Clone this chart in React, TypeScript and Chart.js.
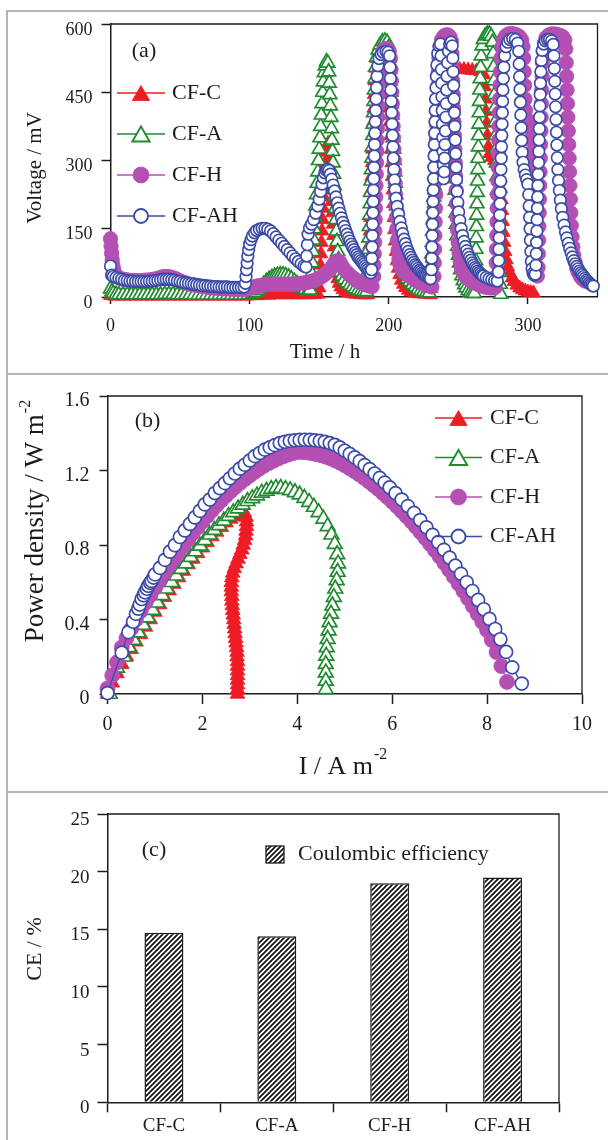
import React, { useEffect, useRef } from "react";
import { Chart, registerables } from "chart.js";

Chart.register(...registerables);

const FONT = "'Liberation Serif', 'Times New Roman', Times, serif";
const INK = "#1c1c1c";

const seriesLabels = ["CF-C", "CF-A", "CF-H", "CF-AH"];
const seriesColors = ["#ee1c25", "#228a30", "#b44fb4", "#3b4ba6"];

// ---------- (a) voltage vs time ----------
const timeTicks = [0, 100, 200, 300];
const voltageTicks = [0, 150, 300, 450, 600];

const voltageCFC = [
  [0, 3], [3, 2], [6, 2], [10, 2], [14, 2], [18, 2], [22, 2], [26, 2], [30, 2], [34, 2], [38, 2], [42, 2], [46, 2], [50, 2],
  [54, 2], [58, 2], [62, 2], [66, 2], [70, 2], [74, 2], [78, 2], [82, 2], [86, 2], [90, 2], [94, 2], [98, 2], [102, 3], [106, 3],
  [110, 4], [114, 4], [118, 5], [122, 5], [126, 5], [130, 5], [134, 5], [138, 5], [142, 5], [146, 5], [149, 6],
  [150, 20], [150.4, 45], [150.8, 70], [151.2, 95], [151.6, 120], [152, 145], [152.4, 170], [152.8, 195], [153.2, 220],
  [153.6, 245], [154, 270], [154.4, 295], [154.9, 318], [155.6, 333], [156.4, 338], [157.1, 332], [157.5, 310], [157.9, 285],
  [158.3, 260], [158.7, 235], [159.1, 210], [159.5, 185], [159.9, 160], [160.3, 135], [160.7, 110], [161.2, 88], [161.8, 68],
  [162.5, 52], [163.3, 40], [164.3, 30], [165.5, 22], [167, 16], [169, 12], [171, 9], [174, 7], [177, 6], [180, 5], [183, 5], [185, 5],
  [185.3, 25], [185.6, 55], [185.9, 85], [186.2, 115], [186.5, 145], [186.8, 175], [187.1, 205], [187.4, 235], [187.7, 265],
  [188, 295], [188.3, 325], [188.6, 355], [188.9, 385], [189.2, 415], [189.5, 445], [189.9, 475], [190.5, 503], [191.4, 524],
  [192.8, 538], [194.5, 546], [196.3, 548], [197.8, 544], [198.8, 532], [199.3, 505], [199.7, 475], [200.1, 445], [200.5, 415],
  [200.9, 385], [201.3, 355], [201.7, 325], [202.1, 295], [202.5, 265], [202.9, 235], [203.3, 205], [203.7, 175], [204.1, 148],
  [204.6, 123], [205.2, 100], [205.9, 80], [206.7, 63], [207.7, 49], [209, 37], [210.5, 28], [212, 21], [214, 15], [216, 11],
  [219, 8], [222, 7], [226, 6], [230, 5],
  [230.5, 25], [230.8, 55], [231.1, 85], [231.4, 115], [231.7, 145], [232, 175], [232.3, 205], [232.6, 235], [232.9, 265],
  [233.2, 295], [233.5, 325], [233.8, 355], [234.1, 385], [234.4, 415], [234.7, 443], [235.1, 468], [235.7, 486], [236.8, 494],
  [239, 498], [242, 500], [245, 501], [248, 501], [251, 500], [254, 500], [257, 499], [260, 498], [263, 497], [266, 495],
  [268.3, 488], [268.9, 462], [269.4, 435], [269.9, 408], [270.4, 382], [270.9, 355], [271.5, 330], [272.5, 315], [274, 307],
  [276, 300], [278, 294], [279.6, 285], [280.2, 262], [280.6, 238], [281, 214], [281.4, 190], [281.8, 166], [282.3, 142],
  [282.9, 120], [283.6, 100], [284.5, 82], [285.6, 66], [287, 53], [288.5, 42], [290, 34], [292, 26], [294, 20], [296, 16],
  [298, 13], [300, 11], [302, 10], [304, 9],
];

const voltageCFA = [
  [0, 18], [1, 12], [2, 8], [4, 6], [6, 5], [9, 5], [12, 5], [15, 5], [18, 5], [21, 5], [24, 5], [27, 5], [30, 5], [33, 5],
  [36, 5], [39, 6], [42, 6], [45, 6], [48, 5], [51, 5], [54, 5], [57, 5], [60, 4], [63, 4], [66, 4], [69, 4], [72, 4], [75, 4],
  [78, 4], [81, 4], [84, 4], [87, 4], [90, 4], [93, 4], [96, 4], [99, 5], [102, 7], [104, 10], [106, 15], [108, 21], [110, 28],
  [112, 34], [114, 39], [116, 43], [118, 46], [120, 48], [122, 49], [124, 49], [126, 47], [128, 44], [130, 40], [132, 35],
  [134, 30], [136, 25], [138, 20], [140, 16], [142, 13], [143.5, 15],
  [144, 30], [144.5, 52], [145, 75], [145.5, 100], [146, 125], [146.5, 150], [147, 175], [147.5, 200], [148, 225], [148.5, 250],
  [149, 275], [149.5, 300], [150, 325], [150.5, 350], [151, 375], [151.5, 400], [152, 425], [152.5, 450], [153, 473], [153.6, 493],
  [154.3, 508], [155.2, 517], [156.2, 514], [156.8, 495], [157.2, 470], [157.6, 445], [158, 420], [158.4, 395], [158.8, 370],
  [159.2, 345], [159.6, 320], [160, 295], [160.4, 270], [160.8, 245], [161.2, 220], [161.6, 195], [162, 170], [162.4, 145],
  [162.8, 122], [163.3, 100], [163.9, 82], [164.6, 67], [165.5, 55], [166.5, 46], [168, 38], [170, 31], [172, 26], [174, 22],
  [176, 18], [178, 15], [180, 13], [182, 12], [184, 12],
  [184.5, 30], [184.8, 55], [185.1, 80], [185.4, 105], [185.7, 130], [186, 155], [186.3, 180], [186.6, 205], [186.9, 230],
  [187.2, 255], [187.5, 280], [187.8, 305], [188.1, 330], [188.4, 355], [188.7, 380], [189, 405], [189.3, 430], [189.6, 455],
  [190, 480], [190.5, 505], [191.2, 527], [192.3, 543], [193.8, 554], [195.5, 561], [197.3, 563], [198.8, 560], [199.8, 548],
  [200.3, 525], [200.7, 500], [201.1, 475], [201.5, 450], [201.9, 425], [202.3, 400], [202.7, 375], [203.1, 350], [203.5, 325],
  [203.9, 300], [204.3, 275], [204.7, 250], [205.1, 225], [205.5, 200], [205.9, 175], [206.4, 150], [206.9, 128], [207.5, 108],
  [208.2, 92], [209, 78], [210, 66], [211, 56], [212, 48], [213.5, 40], [215, 34], [217, 27], [219, 22], [221, 17], [223, 14],
  [225, 12], [227, 10], [229, 9],
  [230, 20], [230.3, 45], [230.6, 70], [230.9, 95], [231.2, 120], [231.5, 145], [231.8, 170], [232.1, 195], [232.4, 220],
  [232.7, 245], [233, 270], [233.3, 295], [233.6, 320], [233.9, 345], [234.2, 370], [234.5, 395], [234.8, 420], [235.1, 445],
  [235.4, 470], [235.8, 495], [236.3, 520], [237, 540], [238, 553], [239.5, 561], [241, 565], [242.5, 565], [243.6, 558],
  [244.1, 535], [244.4, 510], [244.7, 485], [245, 460], [245.3, 435], [245.6, 410], [245.9, 385], [246.2, 360], [246.5, 335],
  [246.8, 310], [247.1, 285], [247.4, 260], [247.7, 235], [248, 210], [248.3, 185], [248.6, 160], [249, 135], [249.5, 112],
  [250.1, 92], [250.8, 75], [251.6, 60], [252.5, 47], [253.5, 36], [254.5, 27], [255.5, 20], [257, 14], [258.5, 10], [260, 8],
  [261.5, 8],
  [262, 30], [262.2, 55], [262.4, 80], [262.6, 105], [262.8, 130], [263, 155], [263.2, 180], [263.4, 205], [263.6, 230],
  [263.8, 255], [264, 280], [264.2, 305], [264.4, 330], [264.6, 355], [264.8, 380], [265, 405], [265.2, 430], [265.4, 455],
  [265.7, 480], [266, 505], [266.4, 530], [267, 552], [268, 566], [269.3, 574], [270.8, 578], [272.3, 578], [273.6, 573],
  [274.5, 560], [275, 535], [275.3, 505], [275.6, 475], [275.9, 445], [276.2, 415], [276.5, 385], [276.8, 355], [277.1, 325],
  [277.4, 295], [277.7, 265], [278, 235], [278.3, 205], [278.6, 175], [278.9, 145], [279.2, 115], [279.5, 85], [279.8, 55],
  [280.1, 28], [280.5, 6],
];

const voltageCFH = [
  [0, 128], [0.4, 112], [0.8, 96], [1.2, 82], [1.7, 70], [2.3, 60], [3, 52], [4, 47], [5, 44], [7, 41], [9, 39], [11, 38],
  [13, 37], [15, 36], [17, 36], [19, 36], [21, 36], [23, 36], [25, 37], [27, 37], [29, 38], [31, 39], [33, 40], [35, 42],
  [37, 44], [39, 45], [41, 45], [43, 44], [45, 42], [47, 40], [49, 37], [51, 34], [53, 32], [55, 30], [57, 28], [59, 27],
  [61, 26], [63, 25], [65, 24], [67, 23], [69, 22], [71, 21], [73, 20], [75, 20], [77, 19], [79, 19], [81, 18], [83, 18],
  [85, 18], [87, 17], [89, 17], [91, 17], [93, 17], [95, 17], [97, 17], [99, 18],
  [101, 20], [103, 22], [105, 24], [107, 25], [109, 26], [111, 27], [113, 28], [115, 28], [117, 28], [119, 28], [121, 28],
  [123, 28], [125, 28], [127, 28], [129, 28], [131, 28], [133, 29], [135, 29], [137, 30], [139, 31], [141, 32], [143, 33],
  [145, 35], [147, 37], [149, 40], [151, 43], [153, 47], [155, 52], [157, 58], [159, 65], [160.5, 72], [162, 78], [163.5, 80],
  [165, 76], [166.5, 68], [168, 61], [170, 54], [172, 48], [174, 43], [176, 38], [178, 34], [180, 31], [182, 28], [184, 26],
  [186, 24], [188, 23],
  [189.2, 45], [189.4, 70], [189.6, 95], [189.8, 120], [190, 145], [190.2, 170], [190.4, 195], [190.6, 220], [190.8, 245],
  [191, 270], [191.2, 295], [191.4, 320], [191.6, 345], [191.8, 370], [192, 395], [192.3, 420], [192.6, 445], [192.9, 470],
  [193.3, 495], [193.9, 517], [194.8, 532], [196, 541], [197.5, 546], [199, 546], [200.3, 540], [201.2, 525], [201.6, 500],
  [201.9, 475], [202.2, 450], [202.5, 425], [202.8, 400], [203.1, 375], [203.4, 350], [203.7, 325], [204, 300], [204.3, 275],
  [204.6, 250], [204.9, 225], [205.2, 200], [205.5, 175], [205.8, 150], [206.2, 125], [206.7, 102], [207.3, 84], [208, 72],
  [209, 64], [210, 58], [211.5, 53], [213, 49], [215, 45], [217, 41], [219, 37], [221, 34], [223, 31], [225, 28], [227, 26],
  [229, 24], [231, 22],
  [232.5, 45], [232.7, 75], [232.9, 105], [233.1, 135], [233.3, 165], [233.5, 195], [233.7, 225], [233.9, 255], [234.1, 285],
  [234.3, 315], [234.5, 345], [234.7, 375], [234.9, 405], [235.1, 435], [235.4, 465], [235.7, 495], [236.1, 525], [236.8, 550],
  [238, 566], [239.5, 573], [241, 576], [242.5, 576], [244, 572], [245, 562], [245.4, 535], [245.7, 505], [246, 475],
  [246.3, 445], [246.6, 415], [246.9, 385], [247.2, 355], [247.5, 325], [247.8, 295], [248.1, 265], [248.4, 235], [248.7, 205],
  [249, 175], [249.4, 147], [249.9, 120], [250.5, 97], [251.3, 78], [252.2, 64], [253.5, 53], [255, 46], [257, 40], [259, 36],
  [261, 32], [263, 29], [265, 26], [267, 24], [269, 22], [271, 21], [273, 20], [275, 20], [276.5, 21],
  [277, 45], [277.2, 75], [277.4, 105], [277.6, 135], [277.8, 165], [278, 195], [278.2, 225], [278.4, 255], [278.6, 285],
  [278.8, 315], [279, 345], [279.2, 375], [279.4, 405], [279.6, 435], [279.9, 465], [280.2, 495], [280.6, 525], [281.3, 550],
  [282.5, 566], [284, 574], [286, 578], [288, 579], [290, 578], [292, 576], [294, 572], [295.5, 565], [296.5, 550], [297, 525],
  [297.3, 495], [297.6, 465], [297.9, 435], [298.2, 410], [298.7, 392], [299.5, 385], [300.5, 380], [301.3, 372], [301.7, 345],
  [302, 315], [302.3, 285], [302.6, 255], [302.9, 225], [303.2, 195], [303.5, 165], [303.8, 135], [304.2, 107], [304.7, 82],
  [305.3, 62], [306, 50], [306.8, 46],
  [307.3, 65], [307.5, 95], [307.7, 125], [307.9, 155], [308.1, 185], [308.3, 215], [308.5, 245], [308.7, 275], [308.9, 305],
  [309.1, 335], [309.3, 365], [309.5, 395], [309.7, 425], [309.9, 455], [310.2, 485], [310.5, 515], [311, 540], [311.8, 558],
  [313, 570], [315, 576], [317, 578], [319, 578], [321, 577], [323, 575], [325, 572], [326.5, 565], [327.2, 545], [327.5, 515],
  [327.8, 485], [328.1, 455], [328.4, 425], [328.7, 395], [329, 365], [329.3, 335], [329.6, 305], [329.9, 275], [330.2, 245],
  [330.5, 215], [330.8, 185], [331.2, 157], [331.7, 132], [332.3, 110], [333, 92], [334, 76], [335, 64], [336, 55],
  [337.5, 46], [339, 40], [341, 35],
];

const voltageCFAH = [
  [0, 68], [0.8, 48], [2, 45], [4, 43], [6, 41], [8, 39], [10, 37], [12, 36], [14, 35], [16, 35], [18, 34], [20, 34], [22, 34],
  [24, 34], [26, 34], [28, 35], [30, 35], [32, 36], [34, 37], [36, 38], [38, 39], [40, 39], [42, 39], [44, 38], [46, 37],
  [48, 35], [50, 34], [52, 32], [54, 31], [56, 30], [58, 29], [60, 28], [62, 27], [64, 26], [66, 25], [68, 25], [70, 24],
  [72, 24], [74, 23], [76, 23], [78, 22], [80, 22], [82, 22], [84, 22], [86, 21], [88, 21], [90, 21], [92, 21], [94, 21], [96, 22],
  [97, 30], [97.4, 45], [97.8, 60], [98.2, 75], [98.7, 90], [99.3, 104], [100, 116], [101, 126], [102, 134], [103.5, 141],
  [105, 146], [107, 149], [109, 151], [111, 151], [113, 149], [115, 145], [117, 139], [119, 132], [121, 125], [123, 118],
  [125, 111], [127, 104], [129, 97], [131, 90], [133, 84], [135, 78], [137, 73], [139, 68], [140.5, 66],
  [141, 90], [141.5, 115], [142, 138], [143, 152], [144.5, 160], [146, 170], [147.5, 184], [149, 200], [150, 215], [151, 232],
  [152, 248], [153, 262], [154, 273], [155, 279], [156, 281], [157, 278], [158, 270], [159, 259], [160, 246], [161, 233],
  [162, 220], [163, 207], [164, 195], [165, 184], [166, 174], [167, 164], [168, 155], [169, 146], [170, 138], [171, 130],
  [172, 123], [173, 116], [174, 110], [175, 104], [176, 98], [177, 93], [178, 88], [179, 84], [180, 80], [181, 76], [182, 72],
  [183, 68], [184, 64], [185, 60], [186, 56], [187, 53],
  [187.6, 60], [187.8, 85], [188, 110], [188.2, 135], [188.4, 160], [188.6, 185], [188.8, 210], [189, 235], [189.2, 260],
  [189.4, 285], [189.6, 310], [189.8, 335], [190, 360], [190.3, 385], [190.6, 410], [190.9, 435], [191.2, 460], [191.6, 485],
  [192.2, 508], [193, 524], [194.5, 533], [196, 538], [198, 540], [199.5, 538], [200.6, 530], [200.9, 505], [201.2, 480],
  [201.5, 455], [201.8, 430], [202.1, 405], [202.4, 380], [202.7, 355], [203, 330], [203.3, 305], [203.7, 280], [204.1, 257],
  [204.6, 236], [205.2, 217], [206, 199], [207, 182], [208, 166], [209, 152], [210, 139], [211, 127], [212, 117], [213, 108],
  [214, 100], [215, 93], [216, 87], [217, 81], [218, 76], [219, 71], [220, 67], [221, 63], [222, 59], [223, 56], [224, 53],
  [225, 50], [226, 48], [227, 46], [228, 44], [229, 42], [230, 40],
  [230.6, 60], [230.8, 85], [231, 110], [231.2, 135], [231.4, 160], [231.6, 185], [231.8, 210], [232, 235], [232.2, 260],
  [232.4, 285], [232.6, 310], [232.8, 335], [233, 360], [233.2, 385], [233.4, 410], [233.6, 435], [233.9, 460], [234.2, 485],
  [234.6, 510], [235.2, 535], [236.2, 552], [237.2, 556], [237.6, 530], [237.8, 500], [238, 470], [238.2, 440], [238.4, 410],
  [238.6, 380], [238.8, 350], [239, 320], [239.2, 290], [239.4, 260], [239.8, 275], [240.1, 305], [240.4, 335], [240.7, 365],
  [241, 395], [241.3, 425], [241.6, 455], [241.9, 485], [242.3, 515], [242.9, 540], [243.8, 556], [244.8, 560], [245.6, 552],
  [246, 525], [246.3, 495], [246.6, 465], [246.9, 435], [247.2, 405], [247.5, 375], [247.8, 345], [248.1, 315], [248.4, 285],
  [248.7, 258], [249.1, 232], [249.6, 208], [250.2, 187], [251, 168], [252, 150], [253, 135], [254, 122], [255, 111],
  [256, 102], [257, 94], [258, 87], [259, 81], [260, 75], [261, 70], [262, 65], [263, 61], [264, 57], [265, 54], [266, 51],
  [267, 48], [268, 46], [270, 43], [272, 40], [274, 38], [276, 36], [278, 35],
  [278.8, 55], [279, 80], [279.2, 105], [279.4, 130], [279.6, 155], [279.8, 180], [280, 205], [280.2, 230], [280.4, 255],
  [280.6, 280], [280.8, 305], [281, 330], [281.2, 355], [281.4, 380], [281.6, 405], [281.8, 430], [282, 455], [282.3, 480],
  [282.7, 505], [283.3, 530], [284.3, 550], [285.5, 560], [287, 566], [289, 568], [291, 566], [292.6, 558], [293.4, 540],
  [293.7, 512], [294, 484], [294.3, 456], [294.6, 428], [294.9, 400], [295.2, 372], [295.5, 344], [295.9, 318], [296.5, 296],
  [297.3, 280], [298.2, 268], [299.1, 258], [300, 248], [300.6, 225], [300.9, 200], [301.2, 175], [301.5, 150], [301.8, 125],
  [302.1, 100], [302.5, 78], [303, 62], [303.7, 52], [304.5, 48], [305.3, 50],
  [305.8, 70], [306, 95], [306.2, 120], [306.4, 145], [306.6, 170], [306.8, 195], [307, 220], [307.2, 245], [307.4, 270],
  [307.6, 295], [307.8, 320], [308, 345], [308.2, 370], [308.4, 395], [308.6, 420], [308.8, 445], [309, 470], [309.3, 495],
  [309.7, 520], [310.3, 542], [311.3, 556], [312.5, 563], [314, 566], [315.5, 566], [317, 563], [318.2, 555], [318.7, 530],
  [319, 502], [319.3, 474], [319.6, 446], [319.9, 418], [320.2, 390], [320.5, 362], [320.8, 334], [321.1, 306], [321.5, 280],
  [322, 256], [322.6, 234], [323.3, 213], [324, 194], [325, 175], [326, 158], [327, 143], [328, 130], [329, 118], [330, 107],
  [331, 97], [332, 88], [333, 80], [334, 73], [335, 67], [336, 62], [337, 57], [338, 53], [339, 49], [340, 45], [341, 41],
  [342, 37], [343, 34], [344, 31], [345, 28], [346, 26], [347, 24],
];

// ---------- (b) power density vs current density ----------
const currentTicks = [0, 2, 4, 6, 8, 10];
const powerTicks = [0, 0.4, 0.8, 1.2, 1.6];

const powerCFC = [
  [0, 0], [0.1, 0.06], [0.2, 0.11], [0.3, 0.16], [0.4, 0.2], [0.5, 0.24], [0.6, 0.28], [0.7, 0.32], [0.8, 0.36], [0.9, 0.4],
  [1.0, 0.44], [1.1, 0.48], [1.2, 0.52], [1.3, 0.555], [1.4, 0.59], [1.5, 0.625], [1.6, 0.66], [1.7, 0.695], [1.8, 0.725],
  [1.9, 0.755], [2.0, 0.785], [2.1, 0.815], [2.2, 0.845], [2.3, 0.87], [2.4, 0.895], [2.5, 0.92], [2.6, 0.94], [2.7, 0.955],
  [2.8, 0.97], [2.88, 0.975], [2.92, 0.95], [2.93, 0.925], [2.93, 0.9], [2.92, 0.875], [2.91, 0.85], [2.89, 0.825], [2.86, 0.8],
  [2.83, 0.775], [2.79, 0.75], [2.75, 0.725], [2.71, 0.7], [2.67, 0.675], [2.64, 0.65], [2.62, 0.625], [2.61, 0.6], [2.61, 0.575],
  [2.61, 0.55], [2.62, 0.525], [2.62, 0.5], [2.63, 0.475], [2.64, 0.45], [2.65, 0.425], [2.66, 0.4], [2.67, 0.375], [2.68, 0.35],
  [2.69, 0.325], [2.7, 0.3], [2.71, 0.275], [2.72, 0.25], [2.73, 0.225], [2.73, 0.2], [2.74, 0.175], [2.74, 0.15], [2.74, 0.125],
  [2.74, 0.1], [2.74, 0.075], [2.74, 0.05], [2.74, 0.025], [2.74, 0],
];

const powerCFA = [
  [0.05, 0], [0.2, 0.14], [0.35, 0.2], [0.45, 0.25], [0.55, 0.29], [0.65, 0.33], [0.75, 0.37], [0.85, 0.41], [0.95, 0.45],
  [1.05, 0.49], [1.15, 0.53], [1.25, 0.565], [1.35, 0.6], [1.45, 0.635], [1.55, 0.67], [1.65, 0.7], [1.75, 0.735], [1.85, 0.765],
  [1.95, 0.795], [2.05, 0.825], [2.15, 0.855], [2.25, 0.88], [2.35, 0.905], [2.45, 0.93], [2.55, 0.955], [2.65, 0.975],
  [2.75, 0.995], [2.85, 1.015], [2.95, 1.035], [3.05, 1.05], [3.15, 1.065], [3.25, 1.08], [3.35, 1.09], [3.45, 1.1], [3.55, 1.105],
  [3.65, 1.105], [3.75, 1.1], [3.85, 1.093], [3.95, 1.083], [4.05, 1.07], [4.15, 1.052], [4.25, 1.03], [4.35, 1.004], [4.45, 0.975],
  [4.55, 0.94], [4.64, 0.9], [4.72, 0.855], [4.79, 0.805], [4.84, 0.75], [4.86, 0.7], [4.85, 0.655], [4.83, 0.61], [4.8, 0.565],
  [4.77, 0.52], [4.74, 0.475], [4.71, 0.43], [4.68, 0.385], [4.66, 0.34], [4.64, 0.295], [4.62, 0.25], [4.61, 0.205], [4.6, 0.16],
  [4.6, 0.115], [4.6, 0.07], [4.6, 0.025],
];

const powerCFH = [
  [0, 0.03], [0.1, 0.1], [0.2, 0.17], [0.3, 0.25], [0.4, 0.3], [0.5, 0.35], [0.6, 0.4], [0.7, 0.445], [0.8, 0.49], [0.9, 0.53],
  [1.0, 0.57], [1.1, 0.61], [1.2, 0.65], [1.3, 0.69], [1.4, 0.725], [1.5, 0.76], [1.6, 0.795], [1.7, 0.83], [1.8, 0.865],
  [1.9, 0.895], [2.0, 0.925], [2.1, 0.955], [2.2, 0.985], [2.3, 1.013], [2.4, 1.04], [2.5, 1.066], [2.6, 1.09], [2.7, 1.113],
  [2.8, 1.135], [2.9, 1.155], [3.0, 1.174], [3.1, 1.192], [3.2, 1.21], [3.3, 1.226], [3.4, 1.24], [3.5, 1.253], [3.6, 1.265],
  [3.7, 1.276], [3.8, 1.285], [3.9, 1.293], [4.0, 1.3], [4.1, 1.299], [4.2, 1.297], [4.3, 1.293], [4.4, 1.288], [4.5, 1.282],
  [4.6, 1.274], [4.7, 1.265], [4.8, 1.254], [4.9, 1.242], [5.0, 1.228], [5.1, 1.213], [5.2, 1.197], [5.3, 1.18], [5.4, 1.162],
  [5.5, 1.143], [5.6, 1.123], [5.7, 1.102], [5.8, 1.08], [5.9, 1.057], [6.0, 1.033], [6.1, 1.008], [6.2, 0.982], [6.3, 0.955],
  [6.4, 0.927], [6.5, 0.898], [6.6, 0.868], [6.7, 0.837], [6.8, 0.805], [6.9, 0.772], [7.0, 0.738], [7.1, 0.703], [7.2, 0.667],
  [7.3, 0.63], [7.4, 0.592], [7.5, 0.553], [7.6, 0.513], [7.7, 0.472], [7.8, 0.43], [7.9, 0.387], [8.0, 0.343], [8.1, 0.29],
  [8.2, 0.225], [8.3, 0.15], [8.42, 0.065],
];

const powerCFAH = [
  [0, 0.005], [0.3, 0.222], [0.44, 0.332], [0.54, 0.388], [0.6, 0.43], [0.65, 0.458], [0.68, 0.48], [0.72, 0.51], [0.76, 0.53],
  [0.79, 0.546], [0.83, 0.565], [0.86, 0.581], [0.9, 0.597], [0.93, 0.607], [0.97, 0.625], [1.0, 0.642], [1.105, 0.677],
  [1.21, 0.72], [1.316, 0.764], [1.42, 0.799], [1.526, 0.843], [1.63, 0.878], [1.737, 0.913], [1.842, 0.948], [1.947, 0.983],
  [2.05, 1.018], [2.158, 1.044], [2.263, 1.079], [2.368, 1.105], [2.474, 1.132], [2.579, 1.158], [2.684, 1.184], [2.789, 1.21],
  [2.895, 1.231], [3.0, 1.254], [3.105, 1.277], [3.21, 1.294], [3.316, 1.312], [3.42, 1.324], [3.526, 1.336], [3.63, 1.347],
  [3.737, 1.354], [3.842, 1.359], [3.947, 1.362], [4.05, 1.364], [4.158, 1.365], [4.263, 1.364], [4.368, 1.362], [4.474, 1.359],
  [4.579, 1.354], [4.684, 1.347], [4.79, 1.338], [4.895, 1.324], [5.0, 1.306], [5.105, 1.289], [5.21, 1.27], [5.316, 1.25],
  [5.42, 1.229], [5.526, 1.207], [5.63, 1.184], [5.737, 1.16], [5.842, 1.135], [5.947, 1.109], [6.07, 1.078], [6.2, 1.044],
  [6.33, 1.009], [6.46, 0.972], [6.59, 0.934], [6.72, 0.895], [6.85, 0.854], [6.97, 0.815], [7.09, 0.774], [7.21, 0.732],
  [7.33, 0.689], [7.45, 0.645], [7.57, 0.6], [7.69, 0.553], [7.81, 0.505], [7.93, 0.455], [8.05, 0.403], [8.17, 0.349],
  [8.28, 0.294], [8.4, 0.226], [8.53, 0.143], [8.73, 0.056],
];

// ---------- (c) coulombic efficiency ----------
const ceCategories = ["CF-C", "CF-A", "CF-H", "CF-AH"];
const ceValues = [14.7, 14.4, 19.0, 19.5];
const ceTicks = [0, 5, 10, 15, 20, 25];
const ceLegendLabel = "Coulombic efficiency";

// ---------- helpers ----------
function drawMarker(ctx: CanvasRenderingContext2D, style: string, x: number, y: number, r: number,
  fill: string, stroke: string, lw: number) {
  ctx.beginPath();
  if (style === "triangle") {
    ctx.moveTo(x, y - r);
    ctx.lineTo(x + r * 0.866, y + r * 0.5);
    ctx.lineTo(x - r * 0.866, y + r * 0.5);
    ctx.closePath();
  } else {
    ctx.arc(x, y, r, 0, Math.PI * 2);
  }
  ctx.fillStyle = fill;
  ctx.fill();
  if (lw > 0) {
    ctx.lineWidth = lw;
    ctx.strokeStyle = stroke;
    ctx.stroke();
  }
}

function seriesDataset(i: number, pts: number[][], sz: { tri: number; circ: number; open: number }) {
  const color = seriesColors[i];
  const tri = i < 2;
  const filled = i === 0 || i === 2;
  return {
    label: seriesLabels[i],
    data: pts.map((p) => ({ x: p[0], y: p[1] })),
    showLine: true,
    borderColor: color,
    borderWidth: 1.3,
    pointStyle: tri ? "triangle" : "circle",
    pointRadius: tri ? sz.tri : filled ? sz.circ : sz.open,
    pointHoverRadius: tri ? sz.tri : filled ? sz.circ : sz.open,
    pointBackgroundColor: filled ? color : "#ffffff",
    pointBorderColor: color,
    pointBorderWidth: filled ? 0.8 : 1.7,
    tension: 0,
    clip: false as any,
    order: 4 - i,
  };
}

function axisStyle(o: { tickLen: number; pad: number; size: number; labelOffset?: number }) {
  return {
    grid: { display: true, drawOnChartArea: false, drawTicks: true, tickLength: o.tickLen, tickWidth: 1.5, tickColor: INK },
    border: { display: true, color: INK, width: 1.5 },
    ticks: {
      color: INK,
      font: { family: FONT, size: o.size },
      padding: o.pad,
      labelOffset: o.labelOffset || 0,
      autoSkip: false,
      maxRotation: 0,
      minRotation: 0,
    },
  };
}

function framePlugin() {
  return {
    id: "plotFrame",
    beforeDatasetsDraw(chart: any) {
      const { ctx, chartArea: a } = chart;
      ctx.save();
      ctx.strokeStyle = INK;
      ctx.lineWidth = 1.3;
      ctx.beginPath();
      ctx.moveTo(a.left, a.top);
      ctx.lineTo(a.right, a.top);
      ctx.lineTo(a.right, a.bottom);
      ctx.stroke();
      ctx.restore();
    },
  };
}

type TextItem = { text: string; x: number; y: number; size: number; rotate?: boolean; sup?: string; supSize?: number; supRaise?: number };

function textsPlugin(items: TextItem[]) {
  return {
    id: "panelTexts",
    afterDraw(chart: any) {
      const ctx = chart.ctx as CanvasRenderingContext2D;
      items.forEach((t) => {
        ctx.save();
        ctx.translate(t.x, t.y);
        if (t.rotate) ctx.rotate(-Math.PI / 2);
        ctx.fillStyle = INK;
        ctx.textBaseline = "middle";
        ctx.textAlign = "left";
        ctx.font = `${t.size}px ${FONT}`;
        const mainW = ctx.measureText(t.text).width;
        let supW = 0;
        if (t.sup) {
          ctx.font = `${t.supSize}px ${FONT}`;
          supW = ctx.measureText(t.sup).width + 1;
        }
        const start = -(mainW + supW) / 2;
        ctx.font = `${t.size}px ${FONT}`;
        ctx.fillText(t.text, start, 0);
        if (t.sup) {
          ctx.font = `${t.supSize}px ${FONT}`;
          ctx.fillText(t.sup, start + mainW + 1, -(t.supRaise || 0));
        }
        ctx.restore();
      });
    },
  };
}

function seriesLegendPlugin(cfg: { x: number; y: number; gap: number; len: number; textGap: number; size: number; triR: number; circR: number; openR: number }) {
  return {
    id: "seriesLegend",
    afterDatasetsDraw(chart: any) {
      const ctx = chart.ctx as CanvasRenderingContext2D;
      chart.data.datasets.forEach((d: any, i: number) => {
        const cy = cfg.y + i * cfg.gap;
        ctx.save();
        ctx.strokeStyle = d.borderColor;
        ctx.lineWidth = 1.5;
        ctx.beginPath();
        ctx.moveTo(cfg.x, cy);
        ctx.lineTo(cfg.x + cfg.len, cy);
        ctx.stroke();
        const isTri = d.pointStyle === "triangle";
        const open = d.pointBackgroundColor === "#ffffff";
        const r = isTri ? cfg.triR : open ? cfg.openR : cfg.circR;
        drawMarker(ctx, d.pointStyle, cfg.x + cfg.len / 2, isTri ? cy + r * 0.25 : cy, r,
          d.pointBackgroundColor, d.pointBorderColor, open ? 1.9 : 0.8);
        ctx.fillStyle = INK;
        ctx.font = `${cfg.size}px ${FONT}`;
        ctx.textAlign = "left";
        ctx.textBaseline = "middle";
        ctx.fillText(d.label, cfg.x + cfg.len + cfg.textGap, cy);
        ctx.restore();
      });
    },
  };
}

function barLegendPlugin(cfg: { x: number; y: number; w: number; h: number; textX: number; size: number }) {
  return {
    id: "barLegend",
    afterDatasetsDraw(chart: any) {
      const ctx = chart.ctx as CanvasRenderingContext2D;
      const d = chart.data.datasets[0];
      ctx.save();
      ctx.fillStyle = d.backgroundColor;
      ctx.fillRect(cfg.x, cfg.y, cfg.w, cfg.h);
      ctx.strokeStyle = INK;
      ctx.lineWidth = 1.3;
      ctx.strokeRect(cfg.x, cfg.y, cfg.w, cfg.h);
      ctx.fillStyle = INK;
      ctx.font = `${cfg.size}px ${FONT}`;
      ctx.textAlign = "left";
      ctx.textBaseline = "middle";
      ctx.fillText(d.label, cfg.textX, cfg.y + cfg.h / 2);
      ctx.restore();
    },
  };
}

function makeHatch(): CanvasPattern | string {
  const s = 5;
  const c = document.createElement("canvas");
  c.width = s;
  c.height = s;
  const g = c.getContext("2d");
  if (!g) return "#888";
  g.fillStyle = "#ffffff";
  g.fillRect(0, 0, s, s);
  g.strokeStyle = "#111111";
  g.lineWidth = 1.7;
  g.beginPath();
  g.moveTo(-1, s + 1);
  g.lineTo(s + 1, -1);
  g.moveTo(-1, 1);
  g.lineTo(1, -1);
  g.moveTo(s - 1, s + 1);
  g.lineTo(s + 1, s - 1);
  g.stroke();
  return g.createPattern(c, "repeat") || "#888";
}

const baseOptions = {
  responsive: false,
  animation: false as const,
  devicePixelRatio: 1,
  events: [] as any[],
  plugins: { legend: { display: false }, tooltip: { enabled: false }, title: { display: false } },
};

function configA(): any {
  const sz = { tri: 8, circ: 7.2, open: 5.8 };
  return {
    type: "scatter",
    data: {
      datasets: [
        seriesDataset(0, voltageCFC, sz),
        seriesDataset(1, voltageCFA, sz),
        seriesDataset(2, voltageCFH, sz),
        seriesDataset(3, voltageCFAH, sz),
      ],
    },
    options: {
      ...baseOptions,
      layout: { padding: { left: 0, top: 24, right: 10.5, bottom: 0 } },
      scales: {
        x: {
          type: "linear",
          min: 0,
          max: 350,
          ...axisStyle({ tickLen: 7, pad: 11, size: 18 }),
          afterBuildTicks: (s: any) => { s.ticks = timeTicks.map((v) => ({ value: v })); },
          afterFit: (s: any) => { s.height = 77; },
        },
        y: {
          type: "linear",
          min: 0,
          max: 600,
          ...axisStyle({ tickLen: 9, pad: 9, size: 18, labelOffset: 6 }),
          afterBuildTicks: (s: any) => { s.ticks = voltageTicks.map((v) => ({ value: v })); },
          afterFit: (s: any) => { s.width = 110.5; },
        },
      },
    },
    plugins: [
      framePlugin(),
      seriesLegendPlugin({ x: 117, y: 93, gap: 41, len: 48, textGap: 7, size: 22, triR: 10, circR: 8, openR: 7 }),
      textsPlugin([
        { text: "(a)", x: 144, y: 51, size: 22 },
        { text: "Voltage / mV", x: 35, y: 168, size: 21, rotate: true },
        { text: "Time / h", x: 325, y: 352, size: 21 },
      ]),
    ],
  };
}

function configB(): any {
  const sz = { tri: 8.5, circ: 7.5, open: 6.5 };
  return {
    type: "scatter",
    data: {
      datasets: [
        seriesDataset(0, powerCFC, sz),
        seriesDataset(1, powerCFA, sz),
        seriesDataset(2, powerCFH, sz),
        seriesDataset(3, powerCFAH, sz),
      ],
    },
    options: {
      ...baseOptions,
      layout: { padding: { left: 0, top: 15, right: 26, bottom: 0 } },
      scales: {
        x: {
          type: "linear",
          min: 0,
          max: 10,
          ...axisStyle({ tickLen: 10, pad: 9, size: 20 }),
          afterBuildTicks: (s: any) => { s.ticks = currentTicks.map((v) => ({ value: v })); },
          afterFit: (s: any) => { s.height = 98; },
        },
        y: {
          type: "linear",
          min: 0,
          max: 1.6,
          ...axisStyle({ tickLen: 8, pad: 10, size: 20, labelOffset: 5 }),
          afterBuildTicks: (s: any) => { s.ticks = powerTicks.map((v) => ({ value: v })); },
          afterFit: (s: any) => { s.width = 107.5; },
        },
      },
    },
    plugins: [
      framePlugin(),
      seriesLegendPlugin({ x: 435, y: 44, gap: 39.5, len: 47, textGap: 8, size: 22, triR: 10, circR: 8, openR: 7 }),
      textsPlugin([
        { text: "(b)", x: 147.5, y: 47, size: 22 },
        { text: "Power density / W m", x: 36, y: 147, size: 27, rotate: true, sup: "-2", supSize: 16, supRaise: 10 },
        { text: "I / A m", x: 343, y: 393, size: 26, sup: "-2", supSize: 16, supRaise: 12 },
      ]),
    ],
  };
}

function configC(): any {
  return {
    type: "bar",
    data: {
      labels: ceCategories,
      datasets: [
        {
          label: ceLegendLabel,
          data: ceValues,
          backgroundColor: makeHatch(),
          borderColor: INK,
          borderWidth: 1.5,
          barPercentage: 0.345,
          categoryPercentage: 1,
        },
      ],
    },
    options: {
      ...baseOptions,
      layout: { padding: { left: 0, top: 22, right: 49, bottom: 0 } },
      scales: {
        x: {
          type: "category",
          offset: true,
          ...axisStyle({ tickLen: 10, pad: 2, size: 19 }),
          grid: { display: true, offset: true, drawOnChartArea: false, drawTicks: true, tickLength: 10, tickWidth: 1.5, tickColor: INK },
          afterFit: (s: any) => { s.height = 37.7; },
        },
        y: {
          type: "linear",
          min: 0,
          max: 25,
          ...axisStyle({ tickLen: 10, pad: 8, size: 19, labelOffset: 6 }),
          afterBuildTicks: (s: any) => { s.ticks = ceTicks.map((v) => ({ value: v })); },
          afterFit: (s: any) => { s.width = 107.5; },
        },
      },
    },
    plugins: [
      framePlugin(),
      barLegendPlugin({ x: 266, y: 54, w: 18, h: 17, textX: 298, size: 22 }),
      textsPlugin([
        { text: "(c)", x: 154, y: 58, size: 22 },
        { text: "CE / %", x: 35, y: 157, size: 22, rotate: true },
      ]),
    ],
  };
}

const lineStyle: React.CSSProperties = { position: "absolute", background: "#b4b4b4" };

export default function App() {
  const refA = useRef<HTMLCanvasElement>(null);
  const refB = useRef<HTMLCanvasElement>(null);
  const refC = useRef<HTMLCanvasElement>(null);

  useEffect(() => {
    const charts: Chart[] = [];
    if (refA.current) charts.push(new Chart(refA.current, configA()));
    if (refB.current) charts.push(new Chart(refB.current, configB()));
    if (refC.current) charts.push(new Chart(refC.current, configC()));
    return () => charts.forEach((c) => c.destroy());
  }, []);

  return (
    <div style={{ position: "fixed", left: 0, top: 0, width: 608, height: 1140, overflow: "hidden", background: "#ffffff" }}>
      <div style={{ ...lineStyle, left: 6, top: 10, width: 2, height: 1130 }} />
      <div style={{ ...lineStyle, left: 6, top: 10, width: 602, height: 2 }} />
      <div style={{ ...lineStyle, left: 6, top: 373, width: 602, height: 2 }} />
      <div style={{ ...lineStyle, left: 6, top: 791, width: 602, height: 2 }} />
      <canvas ref={refA} width={608} height={374} style={{ position: "absolute", left: 0, top: 0, width: 608, height: 374 }} />
      <canvas ref={refB} width={608} height={418} style={{ position: "absolute", left: 0, top: 374, width: 608, height: 418 }} />
      <canvas ref={refC} width={608} height={348} style={{ position: "absolute", left: 0, top: 792, width: 608, height: 348 }} />
    </div>
  );
}
